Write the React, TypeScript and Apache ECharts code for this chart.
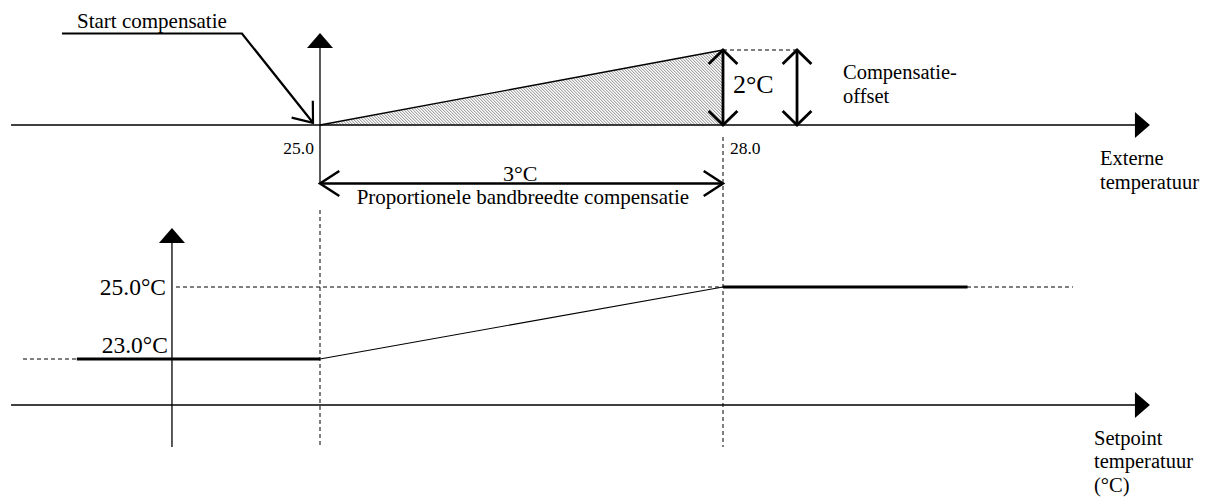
import React, { useEffect, useRef } from 'react';
import * as echarts from 'echarts';

// ---------- data ----------
// upper panel: compensation offset vs. external temperature
const bandExtTemps = [25.0, 28.0];          // start / end of proportional band (°C)
const compensationOffset = [0, 2];          // offset at start / end (°C)
// lower panel: setpoint vs. external temperature
const setpointExtTemps = [23.19, 25.0, 28.0, 29.82];
const setpointValues = [23.0, 23.0, 25.0, 25.0];
// tick labels
const extTickLabels = ['25.0', '28.0'];
const setpointTickLabels = ['25.0°C', '23.0°C'];
// annotation texts
const startLabel = 'Start compensatie';
const offsetValueLabel = '2°C';
const offsetLabel = 'Compensatie-\noffset';
const bandValueLabel = '3°C';
const bandLabel = 'Proportionele bandbreedte compensatie';
const extAxisLabel = 'Externe\ntemperatuur';
const setpointAxisLabel = 'Setpoint\ntemperatuur\n(°C)';

// ---------- axis ranges ----------
const X_MIN = 22.7;
const X_MAX = 31.2;
const TOP_Y_MIN = -2;
const TOP_Y_MAX = 3;
const BOT_Y_MIN = 20;
const BOT_Y_MAX = 27;

const FONT = "'Liberation Serif', 'Times New Roman', Times, serif";

type Head = { kind: 'none' | 'open' | 'filled'; len?: number; half?: number; width?: number };
const NONE: Head = { kind: 'none' };
const AXIS_HEAD: Head = { kind: 'filled', len: 15, width: 26 };

function rot(x: number, y: number, a: number) {
  return [x * Math.cos(a) - y * Math.sin(a), x * Math.sin(a) + y * Math.cos(a)];
}

function pathSeries(
  grid: number,
  points: number[][],
  line: { width: number; dash?: number[]; color?: string },
  start: Head,
  end: Head,
  z = 3
) {
  return {
    type: 'custom',
    xAxisIndex: grid,
    yAxisIndex: grid,
    clip: false,
    silent: true,
    z,
    data: points,
    encode: { x: 0, y: 1 },
    renderItem: (params: any, api: any) => {
      if (params.dataIndex !== points.length - 1) return { type: 'group', children: [] };
      const px: number[][] = points.map((p) => api.coord(p));
      const stroke = line.color || '#000';
      const pts = px.map((p) => p.slice());
      const heads: any[] = [];
      const doHead = (tipIdx: number, prevIdx: number, h: Head) => {
        if (h.kind === 'none') return;
        const tip = px[tipIdx];
        const prev = px[prevIdx];
        const dx = tip[0] - prev[0];
        const dy = tip[1] - prev[1];
        const L = Math.hypot(dx, dy) || 1;
        const ux = dx / L;
        const uy = dy / L;
        if (h.kind === 'filled') {
          const len = h.len || 15;
          const w = (h.width || 20) / 2;
          const bx = tip[0] - ux * len;
          const by = tip[1] - uy * len;
          pts[tipIdx] = [bx + ux * 1, by + uy * 1];
          heads.push({
            type: 'polygon',
            shape: { points: [tip, [bx - uy * w, by + ux * w], [bx + uy * w, by - ux * w]] },
            style: { fill: stroke, stroke: 'none' },
          });
        } else {
          const len = h.len || 20;
          const a = ((h.half || 35) * Math.PI) / 180;
          const r1 = rot(-ux, -uy, a);
          const r2 = rot(-ux, -uy, -a);
          heads.push({
            type: 'polyline',
            shape: {
              points: [
                [tip[0] + r1[0] * len, tip[1] + r1[1] * len],
                tip,
                [tip[0] + r2[0] * len, tip[1] + r2[1] * len],
              ],
            },
            style: { stroke, lineWidth: line.width, fill: 'none', lineJoin: 'miter', lineCap: 'butt' },
          });
        }
      };
      doHead(0, 1, start);
      doHead(px.length - 1, px.length - 2, end);
      const body = {
        type: 'polyline',
        shape: { points: pts },
        style: {
          stroke,
          lineWidth: line.width,
          fill: 'none',
          lineDash: line.dash,
          lineJoin: 'miter',
          lineCap: 'butt',
        },
      };
      return { type: 'group', children: [body].concat(heads) };
    },
  };
}

// text anchored at a data point; multi-line texts are split and stacked
// around the anchor (each line its own element, lineHeight in px)
function textSeries(
  grid: number,
  items: { at: number[]; text: string }[],
  fontSize: number,
  align: 'left' | 'center' | 'right',
  lineHeight = 23
) {
  return {
    type: 'custom',
    xAxisIndex: grid,
    yAxisIndex: grid,
    clip: false,
    silent: true,
    z: 6,
    data: items.map((it) => it.at),
    encode: { x: 0, y: 1 },
    renderItem: (params: any, api: any) => {
      const p = api.coord([api.value(0), api.value(1)]);
      const lines = items[params.dataIndex].text.split('\n');
      const n = lines.length;
      return {
        type: 'group',
        children: lines.map((ln, i) => ({
          type: 'text',
          x: p[0],
          y: p[1] + (i - (n - 1) / 2) * lineHeight,
          style: {
            text: ln,
            fill: '#000',
            fontSize,
            fontFamily: FONT,
            align,
            verticalAlign: 'middle',
          },
        })),
      };
    },
  };
}

function makeHatch() {
  const s = 3;
  const c = document.createElement('canvas');
  c.width = s;
  c.height = s;
  const ctx = c.getContext('2d')!;
  ctx.fillStyle = '#ffffff';
  ctx.fillRect(0, 0, s, s);
  for (let i = 0; i < s; i++) {
    ctx.fillStyle = '#a8a8a8';
    ctx.fillRect(i, i, 1, 1);
    ctx.fillStyle = '#dcdcdc';
    ctx.fillRect((i + 1) % s, i, 1, 1);
  }
  return { image: c, repeat: 'repeat', imageWidth: s, imageHeight: s } as any;
}

function buildOption() {
  // pixel layout: 25.0 °C at x=320, 28.0 °C at x=723
  const pxPerDeg = (723 - 320) / 3;
  const gridLeft = 320 - (25 - X_MIN) * pxPerDeg;
  const gridWidth = (X_MAX - X_MIN) * pxPerDeg;
  const topPx = 37.5; // px per °C offset
  const botPx = 36; // px per °C setpoint

  const xAxisBase = { type: 'value', min: X_MIN, max: X_MAX, show: false };
  const compPoints = bandExtTemps.map((t, i) => [t, compensationOffset[i]]);
  const spPoints = setpointExtTemps.map((t, i) => [t, setpointValues[i]]);

  const openArrowOffset: Head = { kind: 'open', len: 20, half: 46 };
  const openArrowBand: Head = { kind: 'open', len: 23, half: 33 };
  const openArrowStart: Head = { kind: 'open', len: 22, half: 38 };

  const series: any[] = [
    // ----- upper panel -----
    {
      type: 'line',
      xAxisIndex: 0,
      yAxisIndex: 0,
      data: compPoints,
      symbol: 'none',
      silent: true,
      z: 2,
      lineStyle: { color: '#000', width: 1.4 },
      areaStyle: { color: makeHatch(), opacity: 1 },
    },
    pathSeries(0, [[X_MIN, 0], [31.178, 0]], { width: 1.3 }, NONE, AXIS_HEAD),
    pathSeries(0, [[25, -1.55], [25, 2.453]], { width: 1.3 }, NONE, AXIS_HEAD),
    pathSeries(0, [[23.079, 2.44], [24.419, 2.44], [24.948, 0.06]], { width: 2.2 }, NONE, openArrowStart),
    pathSeries(0, [[28, 0], [28, 2]], { width: 2.8 }, openArrowOffset, openArrowOffset, 5),
    pathSeries(0, [[28.551, 0], [28.551, 2]], { width: 2.8 }, openArrowOffset, openArrowOffset, 5),
    pathSeries(0, [[28, 2], [28.551, 2]], { width: 1, dash: [4, 3] }, NONE, NONE),
    pathSeries(0, [[25, -1.56], [28, -1.56]], { width: 2.5 }, openArrowBand, openArrowBand),
    textSeries(0, [{ at: [23.191, 2.773], text: startLabel }], 21, 'left'),
    textSeries(0, [{ at: [24.955, -0.613], text: extTickLabels[0] }], 17.5, 'right'),
    textSeries(0, [{ at: [28.052, -0.613], text: extTickLabels[1] }], 17.5, 'left'),
    textSeries(0, [{ at: [28.074, 1.067], text: offsetValueLabel }], 26, 'left'),
    textSeries(0, [{ at: [28.893, 1.093], text: offsetLabel }], 20.5, 'left', 23.5),
    textSeries(0, [{ at: [26.49, -1.28], text: bandValueLabel }], 22, 'center'),
    textSeries(0, [{ at: [26.51, -1.92], text: bandLabel }], 21, 'center'),
    textSeries(0, [{ at: [30.806, -1.2], text: extAxisLabel }], 20.5, 'left', 23.5),

    // ----- lower panel -----
    pathSeries(1, [[X_MIN, 21.722], [31.178, 21.722]], { width: 1.3 }, NONE, AXIS_HEAD),
    pathSeries(1, [[23.898, 20.556], [23.898, 26.639]], { width: 1.3 }, NONE, AXIS_HEAD),
    pathSeries(1, [[25, 27.139], [25, 20.556]], { width: 1, dash: [4, 3] }, NONE, NONE, 1),
    pathSeries(1, [[28, 29.167], [28, 20.556]], { width: 1, dash: [4, 3] }, NONE, NONE, 1),
    pathSeries(1, [[23.928, 25], [30.605, 25]], { width: 1, dash: [4, 3] }, NONE, NONE, 1),
    pathSeries(1, [[22.789, 23], [23.191, 23]], { width: 1, dash: [4, 3] }, NONE, NONE, 1),
    {
      type: 'line',
      xAxisIndex: 1,
      yAxisIndex: 1,
      data: spPoints,
      symbol: 'none',
      silent: true,
      z: 4,
      lineStyle: { color: '#000', width: 1.1 },
    },
    {
      type: 'line',
      xAxisIndex: 1,
      yAxisIndex: 1,
      data: spPoints.slice(0, 2),
      symbol: 'none',
      silent: true,
      z: 4,
      lineStyle: { color: '#000', width: 3 },
    },
    {
      type: 'line',
      xAxisIndex: 1,
      yAxisIndex: 1,
      data: spPoints.slice(2, 4),
      symbol: 'none',
      silent: true,
      z: 4,
      lineStyle: { color: '#000', width: 3 },
    },
    textSeries(1, [{ at: [23.854, 25.0], text: setpointTickLabels[0] }], 23.5, 'right'),
    textSeries(1, [{ at: [23.868, 23.389], text: setpointTickLabels[1] }], 23.5, 'right'),
    textSeries(1, [{ at: [30.762, 20.16], text: setpointAxisLabel }], 20.5, 'left', 23.5),
  ];

  return {
    animation: false,
    backgroundColor: '#ffffff',
    grid: [
      { left: gridLeft, width: gridWidth, top: 125 - TOP_Y_MAX * topPx, height: (TOP_Y_MAX - TOP_Y_MIN) * topPx },
      {
        left: gridLeft,
        width: gridWidth,
        top: 359 - (BOT_Y_MAX - 23) * botPx,
        height: (BOT_Y_MAX - BOT_Y_MIN) * botPx,
      },
    ],
    xAxis: [
      { ...xAxisBase, gridIndex: 0 },
      { ...xAxisBase, gridIndex: 1 },
    ],
    yAxis: [
      { type: 'value', gridIndex: 0, min: TOP_Y_MIN, max: TOP_Y_MAX, show: false },
      { type: 'value', gridIndex: 1, min: BOT_Y_MIN, max: BOT_Y_MAX, show: false },
    ],
    series,
  };
}

export default function App() {
  const ref = useRef<HTMLDivElement>(null);
  useEffect(() => {
    if (!ref.current) return;
    const chart = echarts.init(ref.current, null, { renderer: 'svg' });
    chart.setOption(buildOption() as any);
    return () => chart.dispose();
  }, []);
  return (
    <div
      ref={ref}
      style={{ position: 'absolute', left: 0, top: 0, width: 1214, height: 497, background: '#fff' }}
    />
  );
}
